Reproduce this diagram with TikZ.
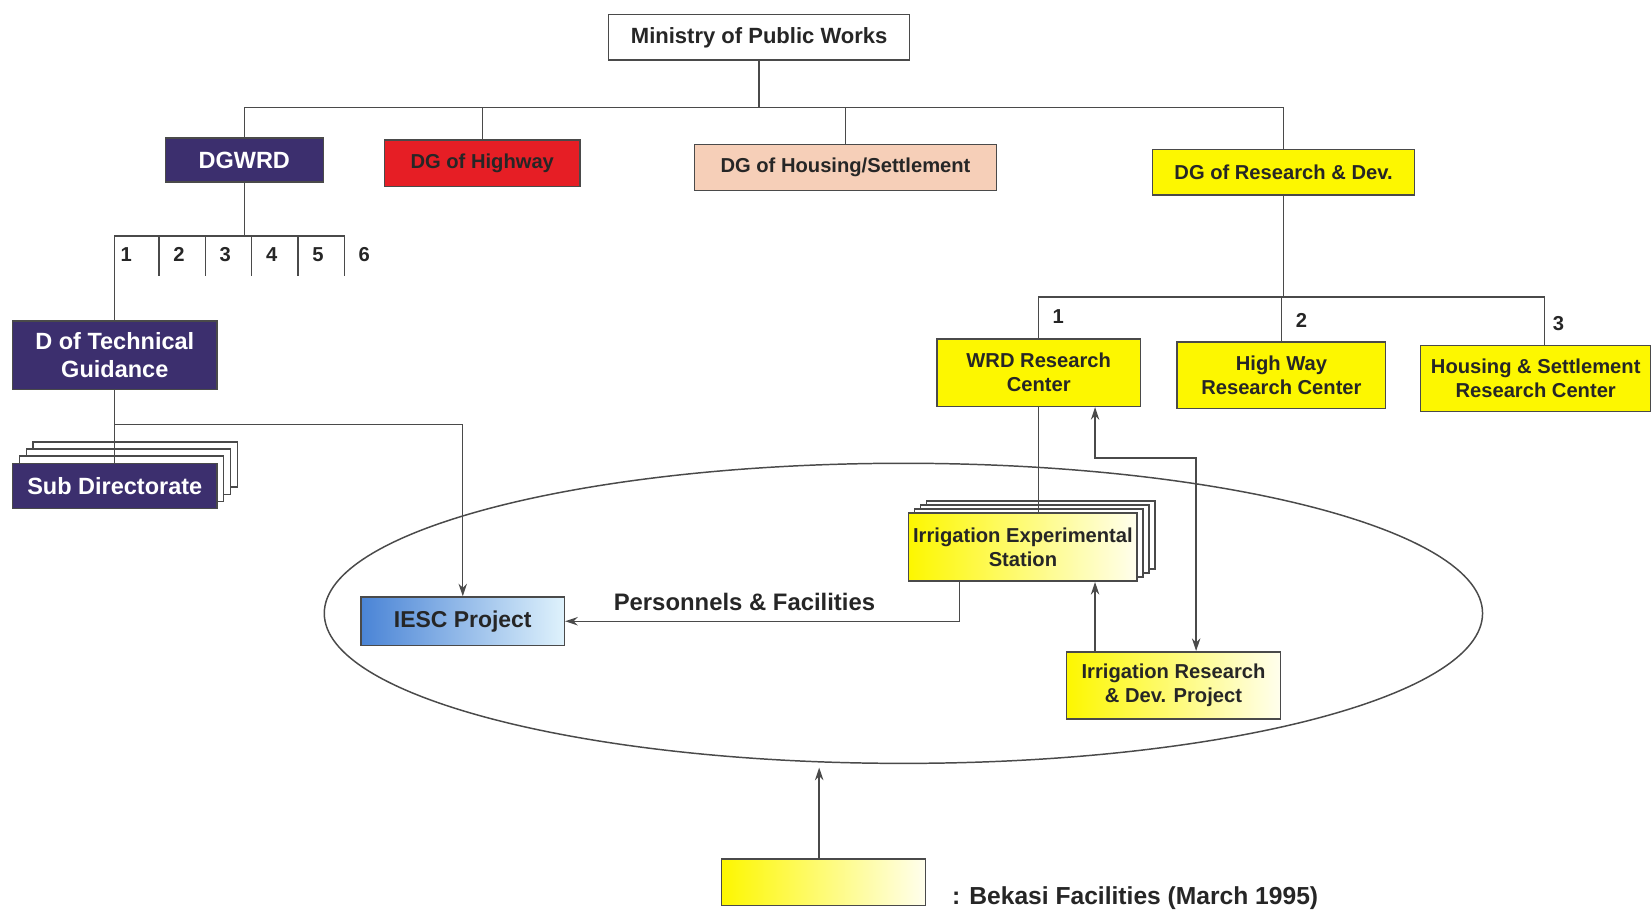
\documentclass[tikz,border=0pt]{standalone}
\usepackage{fontspec}
\setmainfont{Liberation Sans}
\usetikzlibrary{shapes.geometric,arrows.meta}

\definecolor{dgpurple}{HTML}{3C2F6E}
\definecolor{dgred}{HTML}{E61E25}
\definecolor{dgpeach}{HTML}{F6CFB8}
\definecolor{rdyellow}{HTML}{FDF700}
\definecolor{iescblue}{HTML}{4A84D6}
\definecolor{iesclight}{HTML}{DFF2FC}
\definecolor{boxline}{HTML}{4A4A4A}
\definecolor{linkgray}{HTML}{4A4A4A}
\definecolor{ink}{HTML}{262626}

\tikzset{
  orgtext/.style={font=\bfseries\fontsize{10.9}{13}\selectfont, text=ink},
  bigtext/.style={font=\bfseries\fontsize{12.9}{15}\selectfont, text=ink},
  box/.style={orgtext, draw=boxline, line width=0.8pt, align=center, inner sep=0pt},
  purplebox/.style={box, fill=dgpurple, text=white, font=\bfseries\fontsize{12.7}{15}\selectfont},
  yellowbox/.style={box, fill=rdyellow},
  fadebox/.style={box, left color=rdyellow, right color=rdyellow!7},
  stackbox/.style={draw=boxline, fill=white, line width=0.8pt},
  link/.style={draw=linkgray, line width=0.75pt},
}

\begin{document}
\begin{tikzpicture}[x=0.2mm, y=-0.2mm, >={Stealth[length=2.4mm,width=1.6mm]}]
\useasboundingbox (0,0) rectangle (1568,866);

% Bekasi area
\node[draw=linkgray, line width=0.8pt, ellipse, minimum width=220mm, minimum height=57mm, inner sep=0pt] (bekasi) at (858,582.5) {};

% top level
\node[box, fill=white, font=\bfseries\fontsize{11.9}{14}\selectfont, minimum width=57.2mm, minimum height=8.6mm] (mpw) at (721,35.5) {Ministry of Public Works};
\node[purplebox, minimum width=30mm, minimum height=8.4mm] (dgwrd) at (232,152) {DGWRD};
\node[box, fill=dgred, minimum width=37.2mm, minimum height=8.8mm] (dghw) at (458,155) {DG of Highway};
\node[box, fill=dgpeach, minimum width=57.4mm, minimum height=8.8mm] (dghs) at (803,159) {DG of Housing/Settlement};
\node[yellowbox, minimum width=49.8mm, minimum height=8.6mm] (dgrd) at (1219,163.5) {DG of Research \& Dev.};

\coordinate (topbus) at (721,102);
\draw[link] (mpw) -- (topbus);
\draw[link] (dgwrd.north) |- (topbus) -| (dgrd.north);
\draw[link] (dghw.north) -- (dghw.north |- topbus);
\draw[link] (dghs.north) -- (dghs.north |- topbus);

% DGWRD directorates
\node[purplebox, minimum width=38.8mm, minimum height=13mm] (dtg) at (109,337.5) {D of Technical\\Guidance};
\coordinate (wbus) at (232,224);
\draw[link] (dgwrd) -- (wbus);
\draw[link] (dtg.north) |- (327,224) -- (327,262);
\foreach \x in {151,195,239,283}
  \draw[link] (\x,224) -- (\x,262);
\foreach \n/\x in {1/120,2/170,3/214,4/258,5/302,6/346}
  \node[orgtext] (wnum\n) at (\x,242) {\n};

\foreach \k in {3,2,1}
  \node[stackbox, minimum width=38.8mm, minimum height=8.6mm] (subdir\k) at (109+6.5*\k,461.5-6.8*\k) {};
\node[purplebox, minimum width=38.8mm, minimum height=8.6mm] (subdir) at (109,461.5) {Sub Directorate};
\draw[link] (dtg.south) -- (subdir.north);

% IESC project
\node[box, font=\bfseries\fontsize{12.4}{15}\selectfont, left color=iescblue, right color=iesclight, minimum width=38.6mm, minimum height=9.2mm] (iesc) at (439.5,590) {IESC Project};
\draw[link, ->] (dtg.south |- 0,403) -| (iesc.north);

% research centres
\node[yellowbox, minimum width=38.6mm, minimum height=12.8mm] (wrdrc) at (986.5,354) {WRD Research\\Center};
\node[yellowbox, minimum width=39.6mm, minimum height=12.6mm] (hwrc) at (1217,356.5) {High Way\\Research Center};
\node[yellowbox, minimum width=43.8mm, minimum height=12.6mm] (hsrc) at (1458.5,359.5) {Housing \& Settlement\\Research Center};

\coordinate (rbus) at (1219,282);
\draw[link] (dgrd) -- (rbus);
\draw[link] (wrdrc.north) |- (rbus) -| ([xshift=1.7mm]hsrc.north);
\draw[link] (hwrc.north) -- (hwrc.north |- rbus);
\node[orgtext] (rnum1) at (1005,301) {1};
\node[orgtext] (rnum2) at (1236,304) {2};
\node[orgtext] (rnum3) at (1480,307) {3};

% experimental station and project
\foreach \k in {3,2,1}
  \node[stackbox, minimum width=43.4mm, minimum height=13mm] (ies\k) at (971.5+5.7*\k,519.5-3.8*\k) {};
\node[fadebox, minimum width=43.4mm, minimum height=13mm] (ies) at (971.5,519.5) {Irrigation Experimental\\Station};
\node[fadebox, minimum width=40.6mm, minimum height=12.8mm] (irdp) at (1114.5,651) {Irrigation Research\\\& Dev. Project};

\draw[link] (wrdrc.south) -- (wrdrc.south |- ies.north);
\draw[link, <->] (wrdrc.south -| 1040,0) -- (1040,435) -| ([xshift=4.3mm]irdp.north);
\draw[link, ->] (irdp.north -| 1040,0) -- (ies.south -| 1040,0);
\draw[link, ->] ([xshift=9.8mm]ies.south west) |- (iesc.east);
\node[bigtext] (pf) at (707,572) {Personnels \& Facilities};

% legend
\node[fadebox, minimum width=38.8mm, minimum height=8.8mm] (legend) at (782,838) {};
\draw[link, ->] ([xshift=-0.8mm]legend.north) -- ([xshift=-0.8mm]legend.north |- 0,729);
\node[bigtext, font=\bfseries\fontsize{13.3}{16}\selectfont, anchor=west] (legendtext) at (898,853) {: Bekasi Facilities (March 1995)};
\end{tikzpicture}
\end{document}
